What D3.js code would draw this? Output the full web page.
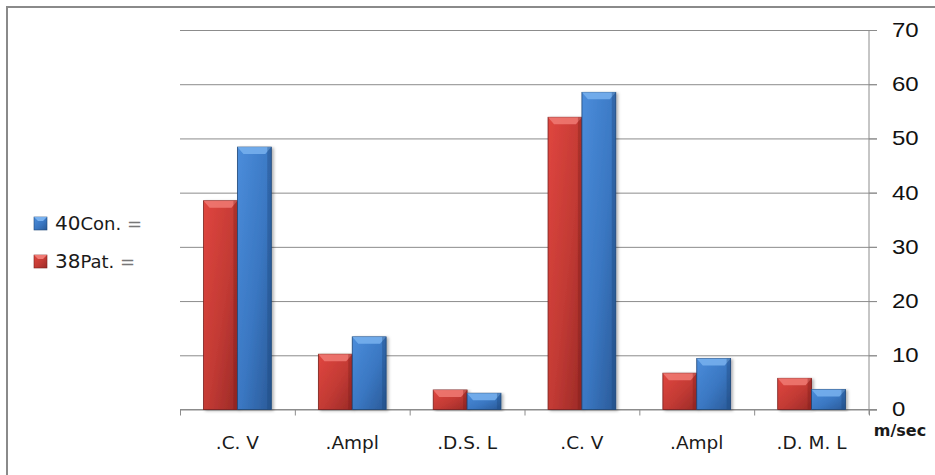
<!DOCTYPE html>
<html lang="en">
<head>
    <meta charset="UTF-8">
    <title>Nerve conduction chart</title>
    <script src="https://d3js.org/d3.v7.min.js"></script>
    <style>
        body { margin: 0; background: #fff; }
        svg text { fill: #1a1a1a; }
    </style>
</head>
<body>
    <svg id="chart" width="935" height="475"></svg>
    <script>
        // Data
        const categories = [".C. V", ".Ampl", ".D.S. L", ".C. V", ".Ampl", ".D. M. L"];
        const patValues = [38.5, 10.2, 3.6, 53.9, 6.7, 5.75];
        const conValues = [48.4, 13.4, 3.0, 58.5, 9.4, 3.7];
        const yTicks = [0, 10, 20, 30, 40, 50, 60, 70];
        const legendItems = [
            { key: "con", num: "40", label: "Con. =" },
            { key: "pat", num: "38", label: "Pat. =" }
        ];
        const unitLabel = "m/sec";

        const width = 935, height = 475;
        const plotLeft = 180, plotRight = 869, plotTop = 30, plotBottom = 409.5;

        const svg = d3.select("#chart");

        // outer frame
        svg.append("path")
            .attr("d", `M7,${height} V7 H${width}`)
            .attr("fill", "none")
            .attr("stroke", "#8a8a8a")
            .attr("stroke-width", 2);

        // gradients for the bevelled bars
        const defs = svg.append("defs");
        const palette = {
            pat: { a: "#e0463f", b: "#c23a34", c: "#9b2a27", cap: "#f07a74", edge: "#7a1e1b" },
            con: { a: "#4b8ddb", b: "#3a77c2", c: "#2a5a98", cap: "#78b1ef", edge: "#1e4677" }
        };
        Object.entries(palette).forEach(([k, p]) => {
            const g = defs.append("linearGradient").attr("id", "grad-" + k)
                .attr("x1", 0).attr("y1", 0).attr("x2", 1).attr("y2", 1);
            g.append("stop").attr("offset", "0%").attr("stop-color", p.a);
            g.append("stop").attr("offset", "55%").attr("stop-color", p.b);
            g.append("stop").attr("offset", "100%").attr("stop-color", p.c);
        });
        const shadow = defs.append("filter").attr("id", "shadow")
            .attr("x", "-20%").attr("y", "-5%").attr("width", "150%").attr("height", "115%");
        shadow.append("feDropShadow").attr("dx", 2).attr("dy", 1)
            .attr("stdDeviation", 1.5).attr("flood-color", "#000").attr("flood-opacity", 0.3);

        // scales
        const x = d3.scaleBand()
            .domain(d3.range(categories.length))
            .range([plotLeft, plotRight])
            .paddingInner(0.41)
            .paddingOuter(0.205);
        const xs = d3.scaleBand()
            .domain(["pat", "con"])
            .range([0, x.bandwidth()]);
        const xEdge = d3.scaleLinear().domain([0, categories.length]).range([plotLeft, plotRight]);
        const y = d3.scaleLinear().domain([0, 70]).range([plotBottom, plotTop]);

        // gridlines (run a little past the axis as outward ticks)
        svg.append("g")
            .attr("transform", `translate(${plotRight + 8},0)`)
            .call(d3.axisLeft(y).tickValues(yTicks).tickSize(plotRight + 8 - plotLeft).tickFormat(""))
            .call(g => g.select(".domain").remove())
            .call(g => g.selectAll("line").attr("stroke", "#8c8c8c"));

        // right axis
        const yAxis = svg.append("g")
            .attr("transform", `translate(${plotRight},0)`)
            .call(d3.axisRight(y).tickValues(yTicks).tickSize(8).tickSizeOuter(0));
        yAxis.select(".domain").attr("stroke", "#8c8c8c").attr("d", `M0,${plotTop}V${plotBottom + 5}`);
        yAxis.selectAll("line").attr("stroke", "#8c8c8c");
        yAxis.selectAll("text")
            .attr("font-family", "Liberation Sans, Arial, sans-serif")
            .attr("font-size", 20)
            .attr("x", 0)
            .attr("text-anchor", "start")
            .attr("transform", "translate(23,0) scale(1.2,1)")
            .style("fill", "#111");

        // bottom axis with ticks on category boundaries
        const xAxis = svg.append("g")
            .attr("transform", `translate(0,${plotBottom})`)
            .call(d3.axisBottom(xEdge).ticks(categories.length).tickSize(6).tickFormat(""));
        xAxis.select(".domain").attr("stroke", "#8c8c8c").attr("d", `M${plotLeft},0H${plotRight + 8}`);
        xAxis.selectAll("line").attr("stroke", "#8c8c8c");

        // category labels
        svg.append("g").selectAll("text")
            .data(categories)
            .join("text")
            .attr("x", (d, i) => x(i) + x.bandwidth() / 2)
            .attr("y", 443)
            .attr("dy", "0.35em")
            .attr("text-anchor", "middle")
            .attr("font-family", "DejaVu Sans, Verdana, sans-serif")
            .attr("font-size", 18.5)
            .text(d => d);

        svg.append("text")
            .attr("x", 900)
            .attr("y", 430)
            .attr("dy", "0.35em")
            .attr("text-anchor", "middle")
            .attr("font-family", "DejaVu Sans, Verdana, sans-serif")
            .attr("font-size", 16)
            .attr("font-weight", "bold")
            .text(unitLabel);

        // bars
        const rows = categories.map((c, i) => ({ i, pat: patValues[i], con: conValues[i] }));
        const groups = svg.append("g").selectAll("g")
            .data(rows)
            .join("g")
            .attr("transform", d => `translate(${x(d.i)},0)`);

        const bars = groups.selectAll("g")
            .data(d => ["pat", "con"].map(k => ({ k, v: d[k] })))
            .join("g")
            .attr("filter", "url(#shadow)");

        bars.append("rect")
            .attr("x", d => xs(d.k))
            .attr("y", d => y(d.v))
            .attr("width", xs.bandwidth())
            .attr("height", d => y(0) - y(d.v))
            .attr("fill", d => `url(#grad-${d.k})`)
            .attr("stroke", d => palette[d.k].edge)
            .attr("stroke-width", 0.8);

        // bevelled top cap
        bars.append("path")
            .attr("d", d => {
                const x0 = xs(d.k), x1 = x0 + xs.bandwidth(), y0 = y(d.v);
                const h = Math.min(7, (y(0) - y0) / 2);
                return `M${x0},${y0}H${x1}L${x1 - 6},${y0 + h}H${x0 + 6}Z`;
            })
            .attr("fill", d => palette[d.k].cap)
            .attr("opacity", 0.85);

        // darker right edge
        bars.append("rect")
            .attr("x", d => xs(d.k) + xs.bandwidth() - 4)
            .attr("y", d => y(d.v))
            .attr("width", 4)
            .attr("height", d => y(0) - y(d.v))
            .attr("fill", d => palette[d.k].edge)
            .attr("opacity", 0.35);

        // legend
        const legend = svg.append("g").selectAll("g")
            .data(legendItems)
            .join("g")
            .attr("transform", (d, i) => `translate(34,${217 + i * 38})`);
        legend.append("rect")
            .attr("width", 13).attr("height", 13)
            .attr("fill", d => `url(#grad-${d.key})`)
            .attr("stroke", d => palette[d.key].edge)
            .attr("stroke-width", 0.6);
        legend.append("path")
            .attr("d", "M0,0H13L9,4H4Z")
            .attr("fill", d => palette[d.key].cap);
        const lt = legend.append("text")
            .attr("x", 21)
            .attr("y", 7)
            .attr("dy", "0.35em")
            .attr("font-family", "DejaVu Sans, Verdana, sans-serif")
            .attr("font-size", 18);
        lt.append("tspan").attr("font-size", 20).text(d => d.num);
        lt.append("tspan").text(d => d.label.replace(" =", " "));
        lt.append("tspan").style("fill", "#777").text("=");
    </script>
</body>
</html>
